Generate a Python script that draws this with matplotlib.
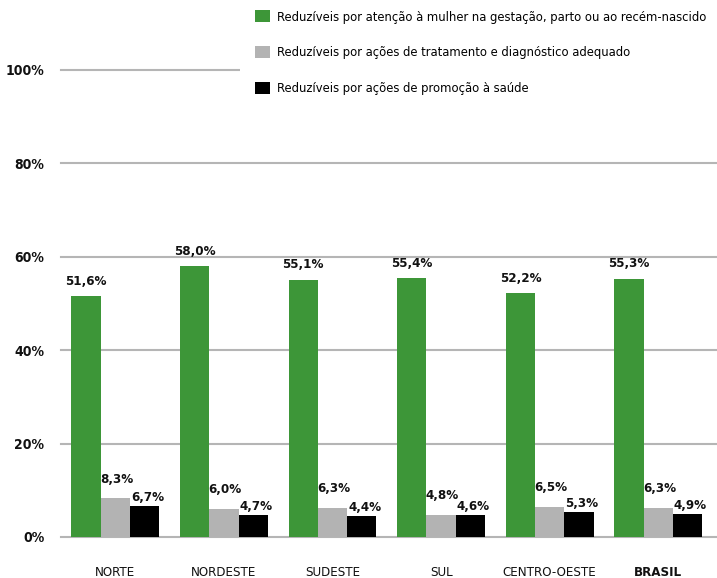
import matplotlib.pyplot as plt
import numpy as np
from matplotlib.patches import Patch, Rectangle

plt.rcParams['font.family'] = ['DejaVu Sans']
plt.rcParams['font.stretch'] = 'condensed'

regioes = ['NORTE', 'NORDESTE', 'SUDESTE', 'SUL', 'CENTRO-OESTE', 'BRASIL']
atencao_mulher = [51.6, 58.0, 55.1, 55.4, 52.2, 55.3]
tratamento = [8.3, 6.0, 6.3, 4.8, 6.5, 6.3]
promocao = [6.7, 4.7, 4.4, 4.6, 5.3, 4.9]

nomes = ['Reduzíveis por atenção à mulher na gestação, parto ou ao recém-nascido',
         'Reduzíveis por ações de tratamento e diagnóstico adequado',
         'Reduzíveis por ações de promoção à saúde']
cores = ['#3d9638', '#b3b3b3', '#000000']
y_ticks = [0, 20, 40, 60, 80, 100]

fig = plt.figure(figsize=(7.17, 5.78), dpi=100)
ax = fig.add_axes([0.085, 0.071, 0.915, 0.808])

x = np.arange(len(regioes))
w = 0.27
series = [atencao_mulher, tratamento, promocao]
# label offsets (points) per series: the gray labels sit higher in the original
desloc = [(0, 6), (1, 9), (2, 1.5)]
for i, valores in enumerate(series):
    pos = x + (i - 1) * w
    ax.bar(pos, valores, w, color=cores[i], zorder=3)
    for xp, v in zip(pos, valores):
        ax.annotate(f'{v:.1f}%'.replace('.', ','), (xp, v), xytext=desloc[i],
                    textcoords='offset points', ha='center', va='bottom',
                    fontsize=9.5, fontweight='bold', color='#111111', zorder=5)

ax.set_ylim(0, 100)
ax.set_xlim(-0.5, 5.54)
ax.set_yticks(y_ticks)
ax.set_yticklabels([f'{t}%' for t in y_ticks], fontsize=10, fontweight='bold',
                   color='#111111')
ax.set_xticks(x)
ax.set_xticklabels(regioes, fontsize=9.5, color='#111111')
ax.get_xticklabels()[-1].set_fontweight('bold')
ax.tick_params(axis='y', length=0, pad=12)
ax.tick_params(axis='x', length=0, pad=21)
ax.grid(axis='y', color='#b5b5b5', linewidth=1.5, zorder=0)
ax.set_axisbelow(True)
for linha in ax.get_ygridlines():
    linha.set_clip_on(False)
for s in ax.spines.values():
    s.set_visible(False)

# white block behind the legend hides the right part of the 100% line
fig.patches.append(Rectangle((240 / 717, 1 - 105 / 578), 1, 105 / 578,
                             transform=fig.transFigure, facecolor='white',
                             edgecolor='none', zorder=5))

handles = [Patch(facecolor=c, edgecolor='none') for c in cores]
leg = fig.legend(handles, nomes, loc='upper right', bbox_to_anchor=(1.0, 1.0),
                 frameon=False, fontsize=9.3, handlelength=1.15, handleheight=1.05,
                 handletextpad=0.6, labelspacing=1.72, borderpad=0.55,
                 borderaxespad=0.25)
leg.set_zorder(10)

fig.savefig('out.png', dpi=100)
